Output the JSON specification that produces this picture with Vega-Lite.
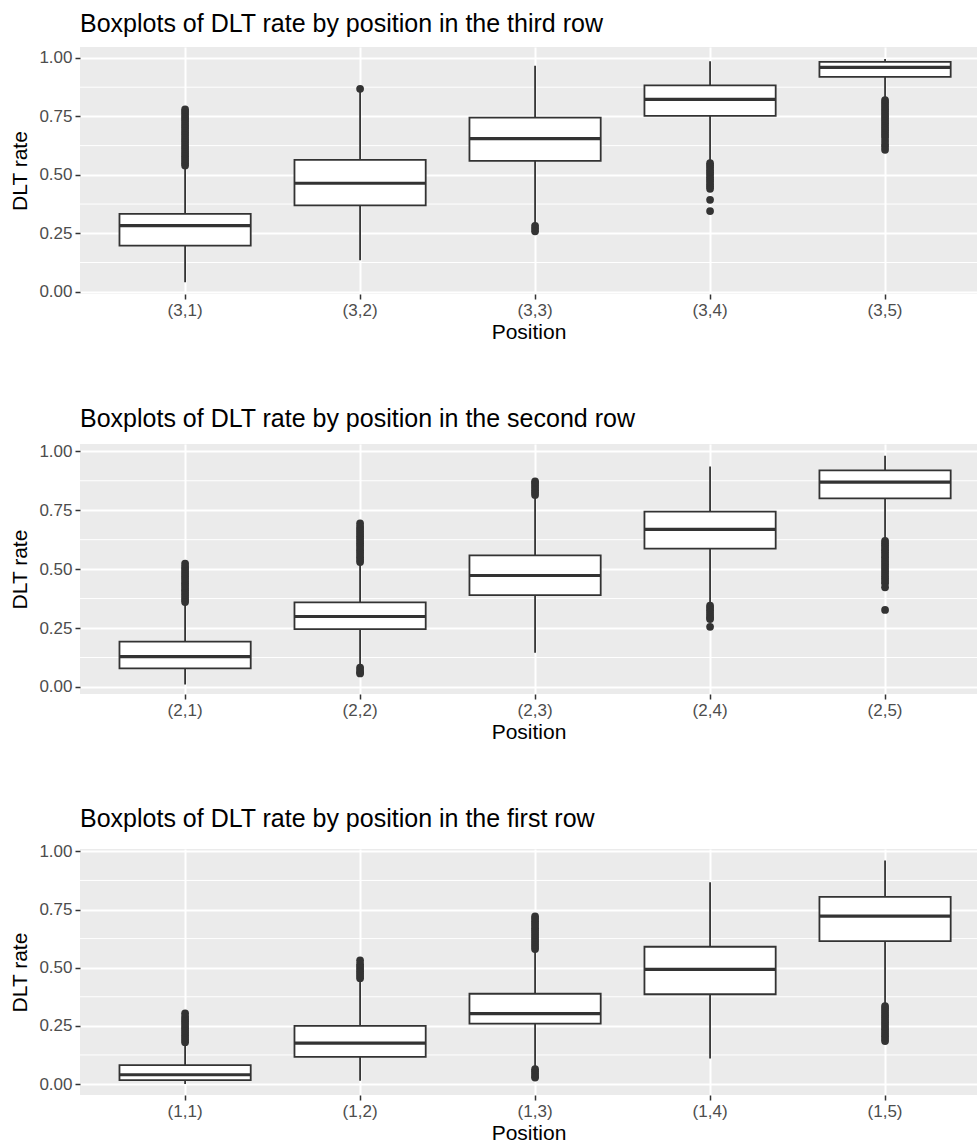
{
  "$schema": "https://vega.github.io/schema/vega-lite/v6.json",
  "background": "white",
  "padding": {"left": 9, "top": 12, "right": 0, "bottom": 0},
  "spacing": 65,
  "datasets": {
    "boxes": [
      {"panel": "third", "pos": "(3,1)", "lower": 0.04, "q1": 0.197, "median": 0.283, "q3": 0.333, "upper": 0.535},
      {"panel": "third", "pos": "(3,2)", "lower": 0.134, "q1": 0.369, "median": 0.464, "q3": 0.564, "upper": 0.855},
      {"panel": "third", "pos": "(3,3)", "lower": 0.29, "q1": 0.56, "median": 0.655, "q3": 0.745, "upper": 0.967},
      {"panel": "third", "pos": "(3,4)", "lower": 0.56, "q1": 0.752, "median": 0.823, "q3": 0.883, "upper": 0.986},
      {"panel": "third", "pos": "(3,5)", "lower": 0.825, "q1": 0.919, "median": 0.96, "q3": 0.983, "upper": 0.996},
      {"panel": "second", "pos": "(2,1)", "lower": 0.01, "q1": 0.079, "median": 0.129, "q3": 0.192, "upper": 0.355},
      {"panel": "second", "pos": "(2,2)", "lower": 0.09, "q1": 0.245, "median": 0.299, "q3": 0.359, "upper": 0.52},
      {"panel": "second", "pos": "(2,3)", "lower": 0.145, "q1": 0.39, "median": 0.473, "q3": 0.558, "upper": 0.81},
      {"panel": "second", "pos": "(2,4)", "lower": 0.355, "q1": 0.587, "median": 0.669, "q3": 0.744, "upper": 0.936},
      {"panel": "second", "pos": "(2,5)", "lower": 0.625, "q1": 0.8, "median": 0.869, "q3": 0.919, "upper": 0.981},
      {"panel": "first", "pos": "(1,1)", "lower": 0.0, "q1": 0.017, "median": 0.04, "q3": 0.081, "upper": 0.175},
      {"panel": "first", "pos": "(1,2)", "lower": 0.014, "q1": 0.117, "median": 0.176, "q3": 0.25, "upper": 0.45},
      {"panel": "first", "pos": "(1,3)", "lower": 0.07, "q1": 0.26, "median": 0.303, "q3": 0.388, "upper": 0.575},
      {"panel": "first", "pos": "(1,4)", "lower": 0.11, "q1": 0.386, "median": 0.493, "q3": 0.59, "upper": 0.867},
      {"panel": "first", "pos": "(1,5)", "lower": 0.34, "q1": 0.614, "median": 0.722, "q3": 0.804, "upper": 0.961}
    ],
    "outliers": [
      {"panel": "third", "pos": "(3,1)", "value": 0.54}, {"panel": "third", "pos": "(3,1)", "value": 0.55}, {"panel": "third", "pos": "(3,1)", "value": 0.56}, {"panel": "third", "pos": "(3,1)", "value": 0.57}, {"panel": "third", "pos": "(3,1)", "value": 0.58}, {"panel": "third", "pos": "(3,1)", "value": 0.59}, {"panel": "third", "pos": "(3,1)", "value": 0.6}, {"panel": "third", "pos": "(3,1)", "value": 0.61}, {"panel": "third", "pos": "(3,1)", "value": 0.62}, {"panel": "third", "pos": "(3,1)", "value": 0.63}, {"panel": "third", "pos": "(3,1)", "value": 0.64}, {"panel": "third", "pos": "(3,1)", "value": 0.65}, {"panel": "third", "pos": "(3,1)", "value": 0.66}, {"panel": "third", "pos": "(3,1)", "value": 0.67}, {"panel": "third", "pos": "(3,1)", "value": 0.68}, {"panel": "third", "pos": "(3,1)", "value": 0.69}, {"panel": "third", "pos": "(3,1)", "value": 0.7}, {"panel": "third", "pos": "(3,1)", "value": 0.71}, {"panel": "third", "pos": "(3,1)", "value": 0.72}, {"panel": "third", "pos": "(3,1)", "value": 0.73}, {"panel": "third", "pos": "(3,1)", "value": 0.74}, {"panel": "third", "pos": "(3,1)", "value": 0.75}, {"panel": "third", "pos": "(3,1)", "value": 0.76}, {"panel": "third", "pos": "(3,1)", "value": 0.77}, {"panel": "third", "pos": "(3,1)", "value": 0.78},
      {"panel": "third", "pos": "(3,2)", "value": 0.868},
      {"panel": "third", "pos": "(3,3)", "value": 0.282}, {"panel": "third", "pos": "(3,3)", "value": 0.27}, {"panel": "third", "pos": "(3,3)", "value": 0.258},
      {"panel": "third", "pos": "(3,4)", "value": 0.55}, {"panel": "third", "pos": "(3,4)", "value": 0.54}, {"panel": "third", "pos": "(3,4)", "value": 0.53}, {"panel": "third", "pos": "(3,4)", "value": 0.52}, {"panel": "third", "pos": "(3,4)", "value": 0.51}, {"panel": "third", "pos": "(3,4)", "value": 0.5}, {"panel": "third", "pos": "(3,4)", "value": 0.49}, {"panel": "third", "pos": "(3,4)", "value": 0.48}, {"panel": "third", "pos": "(3,4)", "value": 0.47}, {"panel": "third", "pos": "(3,4)", "value": 0.46}, {"panel": "third", "pos": "(3,4)", "value": 0.45}, {"panel": "third", "pos": "(3,4)", "value": 0.44}, {"panel": "third", "pos": "(3,4)", "value": 0.393}, {"panel": "third", "pos": "(3,4)", "value": 0.345},
      {"panel": "third", "pos": "(3,5)", "value": 0.82}, {"panel": "third", "pos": "(3,5)", "value": 0.81}, {"panel": "third", "pos": "(3,5)", "value": 0.8}, {"panel": "third", "pos": "(3,5)", "value": 0.79}, {"panel": "third", "pos": "(3,5)", "value": 0.78}, {"panel": "third", "pos": "(3,5)", "value": 0.77}, {"panel": "third", "pos": "(3,5)", "value": 0.76}, {"panel": "third", "pos": "(3,5)", "value": 0.75}, {"panel": "third", "pos": "(3,5)", "value": 0.74}, {"panel": "third", "pos": "(3,5)", "value": 0.73}, {"panel": "third", "pos": "(3,5)", "value": 0.72}, {"panel": "third", "pos": "(3,5)", "value": 0.71}, {"panel": "third", "pos": "(3,5)", "value": 0.7}, {"panel": "third", "pos": "(3,5)", "value": 0.69}, {"panel": "third", "pos": "(3,5)", "value": 0.68}, {"panel": "third", "pos": "(3,5)", "value": 0.67}, {"panel": "third", "pos": "(3,5)", "value": 0.66}, {"panel": "third", "pos": "(3,5)", "value": 0.645}, {"panel": "third", "pos": "(3,5)", "value": 0.63}, {"panel": "third", "pos": "(3,5)", "value": 0.62}, {"panel": "third", "pos": "(3,5)", "value": 0.607},
      {"panel": "second", "pos": "(2,1)", "value": 0.36}, {"panel": "second", "pos": "(2,1)", "value": 0.37}, {"panel": "second", "pos": "(2,1)", "value": 0.38}, {"panel": "second", "pos": "(2,1)", "value": 0.39}, {"panel": "second", "pos": "(2,1)", "value": 0.4}, {"panel": "second", "pos": "(2,1)", "value": 0.41}, {"panel": "second", "pos": "(2,1)", "value": 0.42}, {"panel": "second", "pos": "(2,1)", "value": 0.43}, {"panel": "second", "pos": "(2,1)", "value": 0.44}, {"panel": "second", "pos": "(2,1)", "value": 0.45}, {"panel": "second", "pos": "(2,1)", "value": 0.46}, {"panel": "second", "pos": "(2,1)", "value": 0.47}, {"panel": "second", "pos": "(2,1)", "value": 0.48}, {"panel": "second", "pos": "(2,1)", "value": 0.49}, {"panel": "second", "pos": "(2,1)", "value": 0.5}, {"panel": "second", "pos": "(2,1)", "value": 0.51}, {"panel": "second", "pos": "(2,1)", "value": 0.523},
      {"panel": "second", "pos": "(2,2)", "value": 0.53}, {"panel": "second", "pos": "(2,2)", "value": 0.54}, {"panel": "second", "pos": "(2,2)", "value": 0.55}, {"panel": "second", "pos": "(2,2)", "value": 0.56}, {"panel": "second", "pos": "(2,2)", "value": 0.57}, {"panel": "second", "pos": "(2,2)", "value": 0.58}, {"panel": "second", "pos": "(2,2)", "value": 0.59}, {"panel": "second", "pos": "(2,2)", "value": 0.6}, {"panel": "second", "pos": "(2,2)", "value": 0.61}, {"panel": "second", "pos": "(2,2)", "value": 0.62}, {"panel": "second", "pos": "(2,2)", "value": 0.63}, {"panel": "second", "pos": "(2,2)", "value": 0.64}, {"panel": "second", "pos": "(2,2)", "value": 0.65}, {"panel": "second", "pos": "(2,2)", "value": 0.66}, {"panel": "second", "pos": "(2,2)", "value": 0.67}, {"panel": "second", "pos": "(2,2)", "value": 0.68}, {"panel": "second", "pos": "(2,2)", "value": 0.694}, {"panel": "second", "pos": "(2,2)", "value": 0.082}, {"panel": "second", "pos": "(2,2)", "value": 0.072}, {"panel": "second", "pos": "(2,2)", "value": 0.062}, {"panel": "second", "pos": "(2,2)", "value": 0.057},
      {"panel": "second", "pos": "(2,3)", "value": 0.815}, {"panel": "second", "pos": "(2,3)", "value": 0.825}, {"panel": "second", "pos": "(2,3)", "value": 0.835}, {"panel": "second", "pos": "(2,3)", "value": 0.845}, {"panel": "second", "pos": "(2,3)", "value": 0.855}, {"panel": "second", "pos": "(2,3)", "value": 0.865}, {"panel": "second", "pos": "(2,3)", "value": 0.872},
      {"panel": "second", "pos": "(2,4)", "value": 0.345}, {"panel": "second", "pos": "(2,4)", "value": 0.335}, {"panel": "second", "pos": "(2,4)", "value": 0.325}, {"panel": "second", "pos": "(2,4)", "value": 0.315}, {"panel": "second", "pos": "(2,4)", "value": 0.305}, {"panel": "second", "pos": "(2,4)", "value": 0.295}, {"panel": "second", "pos": "(2,4)", "value": 0.288}, {"panel": "second", "pos": "(2,4)", "value": 0.255},
      {"panel": "second", "pos": "(2,5)", "value": 0.62}, {"panel": "second", "pos": "(2,5)", "value": 0.61}, {"panel": "second", "pos": "(2,5)", "value": 0.6}, {"panel": "second", "pos": "(2,5)", "value": 0.59}, {"panel": "second", "pos": "(2,5)", "value": 0.58}, {"panel": "second", "pos": "(2,5)", "value": 0.57}, {"panel": "second", "pos": "(2,5)", "value": 0.56}, {"panel": "second", "pos": "(2,5)", "value": 0.55}, {"panel": "second", "pos": "(2,5)", "value": 0.54}, {"panel": "second", "pos": "(2,5)", "value": 0.53}, {"panel": "second", "pos": "(2,5)", "value": 0.52}, {"panel": "second", "pos": "(2,5)", "value": 0.51}, {"panel": "second", "pos": "(2,5)", "value": 0.5}, {"panel": "second", "pos": "(2,5)", "value": 0.49}, {"panel": "second", "pos": "(2,5)", "value": 0.48}, {"panel": "second", "pos": "(2,5)", "value": 0.47}, {"panel": "second", "pos": "(2,5)", "value": 0.46}, {"panel": "second", "pos": "(2,5)", "value": 0.45}, {"panel": "second", "pos": "(2,5)", "value": 0.44}, {"panel": "second", "pos": "(2,5)", "value": 0.423}, {"panel": "second", "pos": "(2,5)", "value": 0.327},
      {"panel": "first", "pos": "(1,1)", "value": 0.18}, {"panel": "first", "pos": "(1,1)", "value": 0.19}, {"panel": "first", "pos": "(1,1)", "value": 0.2}, {"panel": "first", "pos": "(1,1)", "value": 0.21}, {"panel": "first", "pos": "(1,1)", "value": 0.22}, {"panel": "first", "pos": "(1,1)", "value": 0.23}, {"panel": "first", "pos": "(1,1)", "value": 0.24}, {"panel": "first", "pos": "(1,1)", "value": 0.25}, {"panel": "first", "pos": "(1,1)", "value": 0.26}, {"panel": "first", "pos": "(1,1)", "value": 0.27}, {"panel": "first", "pos": "(1,1)", "value": 0.28}, {"panel": "first", "pos": "(1,1)", "value": 0.29}, {"panel": "first", "pos": "(1,1)", "value": 0.304},
      {"panel": "first", "pos": "(1,2)", "value": 0.455}, {"panel": "first", "pos": "(1,2)", "value": 0.465}, {"panel": "first", "pos": "(1,2)", "value": 0.475}, {"panel": "first", "pos": "(1,2)", "value": 0.485}, {"panel": "first", "pos": "(1,2)", "value": 0.495}, {"panel": "first", "pos": "(1,2)", "value": 0.505}, {"panel": "first", "pos": "(1,2)", "value": 0.515}, {"panel": "first", "pos": "(1,2)", "value": 0.531},
      {"panel": "first", "pos": "(1,3)", "value": 0.58}, {"panel": "first", "pos": "(1,3)", "value": 0.59}, {"panel": "first", "pos": "(1,3)", "value": 0.6}, {"panel": "first", "pos": "(1,3)", "value": 0.61}, {"panel": "first", "pos": "(1,3)", "value": 0.62}, {"panel": "first", "pos": "(1,3)", "value": 0.63}, {"panel": "first", "pos": "(1,3)", "value": 0.64}, {"panel": "first", "pos": "(1,3)", "value": 0.65}, {"panel": "first", "pos": "(1,3)", "value": 0.66}, {"panel": "first", "pos": "(1,3)", "value": 0.67}, {"panel": "first", "pos": "(1,3)", "value": 0.68}, {"panel": "first", "pos": "(1,3)", "value": 0.69}, {"panel": "first", "pos": "(1,3)", "value": 0.7}, {"panel": "first", "pos": "(1,3)", "value": 0.71}, {"panel": "first", "pos": "(1,3)", "value": 0.72}, {"panel": "first", "pos": "(1,3)", "value": 0.064}, {"panel": "first", "pos": "(1,3)", "value": 0.055}, {"panel": "first", "pos": "(1,3)", "value": 0.045}, {"panel": "first", "pos": "(1,3)", "value": 0.035}, {"panel": "first", "pos": "(1,3)", "value": 0.028},
      {"panel": "first", "pos": "(1,5)", "value": 0.335}, {"panel": "first", "pos": "(1,5)", "value": 0.325}, {"panel": "first", "pos": "(1,5)", "value": 0.315}, {"panel": "first", "pos": "(1,5)", "value": 0.305}, {"panel": "first", "pos": "(1,5)", "value": 0.295}, {"panel": "first", "pos": "(1,5)", "value": 0.285}, {"panel": "first", "pos": "(1,5)", "value": 0.275}, {"panel": "first", "pos": "(1,5)", "value": 0.265}, {"panel": "first", "pos": "(1,5)", "value": 0.255}, {"panel": "first", "pos": "(1,5)", "value": 0.245}, {"panel": "first", "pos": "(1,5)", "value": 0.235}, {"panel": "first", "pos": "(1,5)", "value": 0.225}, {"panel": "first", "pos": "(1,5)", "value": 0.215}, {"panel": "first", "pos": "(1,5)", "value": 0.205}, {"panel": "first", "pos": "(1,5)", "value": 0.195}, {"panel": "first", "pos": "(1,5)", "value": 0.185}
    ],
    "minor": [{"v": 0.125}, {"v": 0.375}, {"v": 0.625}, {"v": 0.875}]
  },
  "config": {
    "font": "Liberation Sans",
    "view": {"fill": "#EBEBEB", "stroke": null},
    "axis": {
      "labelFont": "Liberation Sans", "labelFontSize": 17, "labelColor": "#4D4D4D",
      "titleFont": "Liberation Sans", "titleFontSize": 21, "titleFontWeight": "normal", "titleColor": "#000000",
      "domain": false, "tickColor": "#333333", "tickSize": 5, "tickWidth": 1.5,
      "gridColor": "#FFFFFF", "gridWidth": 2, "labelPadding": 3
    },
    "axisY": {"titlePadding": 8},
    "axisX": {"titlePadding": 3, "labelAngle": 0},
    "title": {"font": "Liberation Sans", "fontSize": 25, "fontWeight": "normal", "anchor": "start", "frame": "group", "color": "#000000", "offset": 10}
  },
  "vconcat": [
    {
      "title": "Boxplots of DLT rate by position in the third row",
      "width": 897, "height": 247,
      "layer": [
        {"data": {"name": "minor"}, "mark": {"type": "rule", "color": "#FFFFFF", "strokeWidth": 1},
         "encoding": {"y": {"field": "v", "type": "quantitative", "title": "DLT rate", "scale": {"domain": [-0.01, 1.047], "nice": false, "zero": false}, "axis": {"values": [0, 0.25, 0.5, 0.75, 1], "format": ".2f", "grid": true}}}},
        {"data": {"name": "boxes"}, "transform": [{"filter": "datum.panel === 'third'"}], "mark": {"type": "rule", "color": "#333333", "strokeWidth": 1.8},
         "encoding": {"x": {"field": "pos", "type": "nominal", "title": "Position", "scale": {"domain": ["(3,1)", "(3,2)", "(3,3)", "(3,4)", "(3,5)"], "paddingInner": 0.25, "paddingOuter": 0.188, "align": 0.6}, "axis": {"grid": true, "bandPosition": 0.5}},
                      "y": {"field": "lower", "type": "quantitative", "title": "DLT rate"}, "y2": {"field": "upper"}}},
        {"data": {"name": "boxes"}, "transform": [{"filter": "datum.panel === 'third'"}], "mark": {"type": "bar", "fill": "#FFFFFF", "stroke": "#333333", "strokeWidth": 1.8},
         "encoding": {"x": {"field": "pos", "type": "nominal"}, "y": {"field": "q1", "type": "quantitative", "title": "DLT rate"}, "y2": {"field": "q3"}}},
        {"data": {"name": "boxes"}, "transform": [{"filter": "datum.panel === 'third'"}], "mark": {"type": "tick", "color": "#333333", "thickness": 3.2, "size": 131, "orient": "horizontal", "opacity": 1},
         "encoding": {"x": {"field": "pos", "type": "nominal"}, "y": {"field": "median", "type": "quantitative", "title": "DLT rate"}}},
        {"data": {"name": "outliers"}, "transform": [{"filter": "datum.panel === 'third'"}], "mark": {"type": "circle", "color": "#333333", "opacity": 1, "size": 60},
         "encoding": {"x": {"field": "pos", "type": "nominal"}, "y": {"field": "value", "type": "quantitative", "title": "DLT rate"}}}
      ]
    },
    {
      "title": "Boxplots of DLT rate by position in the second row",
      "width": 897, "height": 250,
      "layer": [
        {"data": {"name": "minor"}, "mark": {"type": "rule", "color": "#FFFFFF", "strokeWidth": 1},
         "encoding": {"y": {"field": "v", "type": "quantitative", "title": "DLT rate", "scale": {"domain": [-0.03, 1.031], "nice": false, "zero": false}, "axis": {"values": [0, 0.25, 0.5, 0.75, 1], "format": ".2f", "grid": true}}}},
        {"data": {"name": "boxes"}, "transform": [{"filter": "datum.panel === 'second'"}], "mark": {"type": "rule", "color": "#333333", "strokeWidth": 1.8},
         "encoding": {"x": {"field": "pos", "type": "nominal", "title": "Position", "scale": {"domain": ["(2,1)", "(2,2)", "(2,3)", "(2,4)", "(2,5)"], "paddingInner": 0.25, "paddingOuter": 0.188, "align": 0.6}, "axis": {"grid": true, "bandPosition": 0.5}},
                      "y": {"field": "lower", "type": "quantitative", "title": "DLT rate"}, "y2": {"field": "upper"}}},
        {"data": {"name": "boxes"}, "transform": [{"filter": "datum.panel === 'second'"}], "mark": {"type": "bar", "fill": "#FFFFFF", "stroke": "#333333", "strokeWidth": 1.8},
         "encoding": {"x": {"field": "pos", "type": "nominal"}, "y": {"field": "q1", "type": "quantitative", "title": "DLT rate"}, "y2": {"field": "q3"}}},
        {"data": {"name": "boxes"}, "transform": [{"filter": "datum.panel === 'second'"}], "mark": {"type": "tick", "color": "#333333", "thickness": 3.2, "size": 131, "orient": "horizontal", "opacity": 1},
         "encoding": {"x": {"field": "pos", "type": "nominal"}, "y": {"field": "median", "type": "quantitative", "title": "DLT rate"}}},
        {"data": {"name": "outliers"}, "transform": [{"filter": "datum.panel === 'second'"}], "mark": {"type": "circle", "color": "#333333", "opacity": 1, "size": 60},
         "encoding": {"x": {"field": "pos", "type": "nominal"}, "y": {"field": "value", "type": "quantitative", "title": "DLT rate"}}}
      ]
    },
    {
      "title": "Boxplots of DLT rate by position in the first row",
      "width": 897, "height": 246,
      "layer": [
        {"data": {"name": "minor"}, "mark": {"type": "rule", "color": "#FFFFFF", "strokeWidth": 1},
         "encoding": {"y": {"field": "v", "type": "quantitative", "title": "DLT rate", "scale": {"domain": [-0.047, 1.01], "nice": false, "zero": false}, "axis": {"values": [0, 0.25, 0.5, 0.75, 1], "format": ".2f", "grid": true}}}},
        {"data": {"name": "boxes"}, "transform": [{"filter": "datum.panel === 'first'"}], "mark": {"type": "rule", "color": "#333333", "strokeWidth": 1.8},
         "encoding": {"x": {"field": "pos", "type": "nominal", "title": "Position", "scale": {"domain": ["(1,1)", "(1,2)", "(1,3)", "(1,4)", "(1,5)"], "paddingInner": 0.25, "paddingOuter": 0.188, "align": 0.6}, "axis": {"grid": true, "bandPosition": 0.5}},
                      "y": {"field": "lower", "type": "quantitative", "title": "DLT rate"}, "y2": {"field": "upper"}}},
        {"data": {"name": "boxes"}, "transform": [{"filter": "datum.panel === 'first'"}], "mark": {"type": "bar", "fill": "#FFFFFF", "stroke": "#333333", "strokeWidth": 1.8},
         "encoding": {"x": {"field": "pos", "type": "nominal"}, "y": {"field": "q1", "type": "quantitative", "title": "DLT rate"}, "y2": {"field": "q3"}}},
        {"data": {"name": "boxes"}, "transform": [{"filter": "datum.panel === 'first'"}], "mark": {"type": "tick", "color": "#333333", "thickness": 3.2, "size": 131, "orient": "horizontal", "opacity": 1},
         "encoding": {"x": {"field": "pos", "type": "nominal"}, "y": {"field": "median", "type": "quantitative", "title": "DLT rate"}}},
        {"data": {"name": "outliers"}, "transform": [{"filter": "datum.panel === 'first'"}], "mark": {"type": "circle", "color": "#333333", "opacity": 1, "size": 60},
         "encoding": {"x": {"field": "pos", "type": "nominal"}, "y": {"field": "value", "type": "quantitative", "title": "DLT rate"}}}
      ]
    }
  ]
}
